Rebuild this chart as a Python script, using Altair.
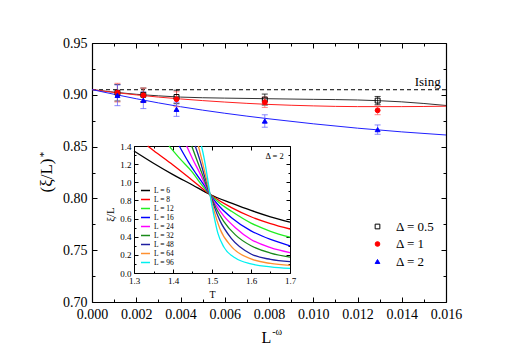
import altair as alt
import pandas as pd

SERIF = "Liberation Serif"

# ---------------- main panel data ----------------
L_omega = [0.00115, 0.00232, 0.00382, 0.00781, 0.01291]
series_names = ["Δ = 0.5", "Δ = 1", "Δ = 2"]
xi_05 = [0.9020, 0.9000, 0.8979, 0.8954, 0.8944]
err_05 = [0.0080, 0.0065, 0.0065, 0.0053, 0.0040]
xi_1 = [0.9021, 0.8995, 0.8957, 0.8928, 0.8850]
err_1 = [0.0090, 0.0070, 0.0072, 0.0050, 0.0042]
xi_2 = [0.8995, 0.8947, 0.8860, 0.8747, 0.8664]
err_2 = [0.0100, 0.0080, 0.0068, 0.0060, 0.0045]

fit_x = [0.000, 0.001, 0.002, 0.003, 0.004, 0.006, 0.008, 0.010, 0.012, 0.014, 0.016]
fit_05 = [0.9050, 0.9025, 0.9005, 0.8990, 0.8978, 0.8968, 0.8962, 0.8956, 0.8950, 0.8932, 0.8897]
fit_1 = [0.9050, 0.9023, 0.8999, 0.8978, 0.8960, 0.8930, 0.8907, 0.8893, 0.8886, 0.8886, 0.8890]
fit_2 = [0.9050, 0.9005, 0.8962, 0.8922, 0.8885, 0.8822, 0.8768, 0.8720, 0.8678, 0.8642, 0.8612]
ising_value = 0.9049

series_stroke = ["#000000", "#ff0000", "#0000ff"]
series_fill = ["transparent", "#ff0000", "#0000ff"]
series_shape = ["square", "circle", "triangle-up"]
fit_colors = ["#333333", "#ff2020", "#2020ff"]
err_colors = ["#000000", "#ff6060", "#6060ff"]

MAJ_X = [0.000, 0.002, 0.004, 0.006, 0.008, 0.010, 0.012, 0.014, 0.016]
MIN_X = [0.001, 0.003, 0.005, 0.007, 0.009, 0.011, 0.013, 0.015]
MAJ_Y = [0.70, 0.75, 0.80, 0.85, 0.90, 0.95]
MIN_Y = [0.725, 0.775, 0.825, 0.875, 0.925]

# ---------------- inset data ----------------
L_labels = ["L = 6", "L = 8", "L = 12", "L = 16", "L = 24", "L = 32", "L = 48", "L = 64", "L = 96"]
L_colors = ["#000000", "#ff0000", "#22ee22", "#0000ff", "#ff00ff", "#1a8a1a", "#1f1fa0", "#ff9030", "#00f0f0"]
T_6 = [1.30, 1.35, 1.40, 1.45, 1.495, 1.55, 1.60, 1.65, 1.70]
V_6 = [1.345, 1.21, 1.085, 0.97, 0.865, 0.77, 0.69, 0.62, 0.56]
T_8 = [1.335, 1.35, 1.40, 1.45, 1.495, 1.55, 1.60, 1.65, 1.70]
V_8 = [1.40, 1.35, 1.19, 1.02, 0.865, 0.72, 0.62, 0.545, 0.485]
T_12 = [1.39, 1.42, 1.45, 1.47, 1.495, 1.52, 1.55, 1.60, 1.65, 1.70]
V_12 = [1.40, 1.25, 1.11, 0.99, 0.865, 0.77, 0.68, 0.55, 0.46, 0.395]
T_16 = [1.416, 1.44, 1.46, 1.48, 1.495, 1.52, 1.55, 1.60, 1.65, 1.70]
V_16 = [1.40, 1.22, 1.09, 0.965, 0.865, 0.73, 0.61, 0.465, 0.37, 0.30]
T_24 = [1.435, 1.45, 1.47, 1.485, 1.495, 1.51, 1.53, 1.56, 1.60, 1.65, 1.70]
V_24 = [1.40, 1.26, 1.09, 0.95, 0.865, 0.75, 0.63, 0.50, 0.37, 0.28, 0.225]
T_32 = [1.448, 1.46, 1.475, 1.487, 1.495, 1.51, 1.53, 1.56, 1.60, 1.65, 1.70]
V_32 = [1.40, 1.26, 1.09, 0.95, 0.865, 0.72, 0.57, 0.42, 0.30, 0.22, 0.175]
T_48 = [1.457, 1.47, 1.48, 1.49, 1.495, 1.505, 1.52, 1.55, 1.60, 1.65, 1.70]
V_48 = [1.40, 1.23, 1.08, 0.94, 0.865, 0.74, 0.58, 0.38, 0.21, 0.15, 0.125]
T_64 = [1.465, 1.475, 1.485, 1.495, 1.505, 1.52, 1.55, 1.60, 1.65, 1.70]
V_64 = [1.40, 1.23, 1.05, 0.865, 0.69, 0.49, 0.29, 0.155, 0.105, 0.085]
T_96 = [1.473, 1.48, 1.488, 1.495, 1.505, 1.515, 1.53, 1.56, 1.60, 1.65, 1.70]
V_96 = [1.40, 1.26, 1.06, 0.865, 0.63, 0.44, 0.29, 0.165, 0.10, 0.068, 0.05]
inset_T = [T_6, T_8, T_12, T_16, T_24, T_32, T_48, T_64, T_96]
inset_V = [V_6, V_8, V_12, V_16, V_24, V_32, V_48, V_64, V_96]

IMAJ_X = [1.3, 1.4, 1.5, 1.6, 1.7]
IMIN_X = [1.35, 1.45, 1.55, 1.65]
IMAJ_Y = [0.0, 0.2, 0.4, 0.6, 0.8, 1.0, 1.2, 1.4]
IMIN_Y = [0.1, 0.3, 0.5, 0.7, 0.9, 1.1, 1.3]

# ---------------- tables ----------------
rows = []
for name, ys, es in zip(series_names, [xi_05, xi_1, xi_2], [err_05, err_1, err_2]):
    for x, y, e in zip(L_omega, ys, es):
        rows.append({"x": x, "y": y, "lo": y - e, "hi": y + e, "series": name})
pts = pd.DataFrame(rows)

frows = []
for name, ys in zip(series_names, [fit_05, fit_1, fit_2]):
    for x, y in zip(fit_x, ys):
        frows.append({"x": x, "y": y, "series": name})
fits = pd.DataFrame(frows)

ising_df = pd.DataFrame({"y": [ising_value], "x": [0.01576], "t": ["Ising"]})

irows = []
for lab, ts, vs in zip(L_labels, inset_T, inset_V):
    for t, v in zip(ts, vs):
        irows.append({"T": t, "v": v, "L": lab})
inset_df = pd.DataFrame(irows)
inset_note = pd.DataFrame({"T": [1.684], "v": [1.262], "t": ["Δ = 2"]})

W, H = 354, 259
XS = alt.Scale(domain=[0, 0.016], nice=False, zero=False)
YS = alt.Scale(domain=[0.70, 0.95], nice=False, zero=False)
IX0, IX1, IY0, IY1 = 42, 198, 230, 103
IXS = alt.Scale(domain=[1.3, 1.7], range=[IX0, IX1], nice=False, zero=False)
IYS = alt.Scale(domain=[0.0, 1.4], range=[IY0, IY1], nice=False, zero=False)

SS = alt.Scale(domain=series_names, range=series_stroke)
FS = alt.Scale(domain=series_names, range=series_fill)
SHS = alt.Scale(domain=series_names, range=series_shape)


def ax(**kw):
    base = dict(grid=False, labels=False, ticks=False, domain=False, title=None,
                tickColor="black", domainColor="black", labelColor="black",
                titleColor="black", labelFont=SERIF, titleFont=SERIF,
                labelFlush=False, labelOverlap=False, titleFontWeight="normal",
                tickWidth=1)
    base.update(kw)
    return alt.Axis(**base)


LEG = alt.Legend(orient="none", legendX=279, legendY=177, title=None,
                 labelFont=SERIF, labelFontSize=13, labelColor="black",
                 symbolSize=22, symbolStrokeWidth=1, rowPadding=3.5,
                 labelOffset=12, padding=0)

ising_rule = alt.Chart(ising_df).mark_rule(strokeDash=[4, 3], color="black", strokeWidth=1).encode(
    y=alt.Y("y:Q", scale=YS, axis=None))
ising_text = alt.Chart(ising_df).mark_text(font=SERIF, fontSize=13, align="right",
                                           baseline="alphabetic", dy=-3.5, color="black").encode(
    x=alt.X("x:Q", scale=XS, axis=None), y=alt.Y("y:Q", scale=YS, axis=None), text="t:N")

series_layers = []
for name, fc, ec in zip(series_names, fit_colors, err_colors):
    series_layers.append(
        alt.Chart(fits).transform_filter(alt.datum.series == name)
        .mark_line(strokeWidth=1, interpolate="monotone", color=fc)
        .encode(x=alt.X("x:Q", scale=XS, axis=None), y=alt.Y("y:Q", scale=YS, axis=None)))
for name, fc, ec in zip(series_names, fit_colors, err_colors):
    series_layers.append(
        alt.Chart(pts).transform_filter(alt.datum.series == name)
        .mark_rule(strokeWidth=1, opacity=0.75, color=ec)
        .encode(x=alt.X("x:Q", scale=XS, axis=None), y=alt.Y("lo:Q", scale=YS, axis=None), y2="hi:Q"))
    series_layers.append(
        alt.Chart(pts).transform_filter(alt.datum.series == name)
        .transform_fold(["lo", "hi"], as_=["k", "v"])
        .mark_rule(strokeWidth=1, opacity=0.75, color=ec, xOffset=-3, x2Offset=3)
        .encode(x=alt.X("x:Q", scale=XS, axis=None), x2="x:Q", y=alt.Y("v:Q", scale=YS, axis=None)))

points = alt.Chart(pts).mark_point(filled=True, opacity=1, size=24, strokeWidth=1).encode(
    x=alt.X("x:Q", scale=XS, axis=None), y=alt.Y("y:Q", scale=YS, axis=None),
    stroke=alt.Stroke("series:N", scale=SS, legend=LEG),
    fill=alt.Fill("series:N", scale=FS, legend=LEG),
    shape=alt.Shape("series:N", scale=SHS, legend=LEG))

ax_df = pd.DataFrame({"ax": [0.008], "ay": [0.80]})
iax_df = pd.DataFrame({"ax": [1.5], "ay": [0.7]})


def axis_layer(df, xs, ys, xa, ya):
    return alt.Chart(df).mark_point(opacity=0).encode(
        x=alt.X("ax:Q", scale=xs, axis=xa), y=alt.Y("ay:Q", scale=ys, axis=ya))


main_axes = [
    axis_layer(ax_df, XS, YS,
               ax(orient="bottom", values=MAJ_X, format=".3f", labels=True, domain=True,
                  domainWidth=1.2, tickSize=0, labelFontSize=14, labelPadding=5,
                  title="L", titleFontSize=16, titleX=174, titleY=40,
                  titleAlign="center", titleBaseline="alphabetic"),
               ax(orient="left", values=MAJ_Y, format=".2f", labels=True, domain=True,
                  domainWidth=1.2, tickSize=0, labelFontSize=14, labelPadding=5,
                  title="(ξ/L)", titleFontSize=17, titleAngle=270, titleX=-37, titleY=132,
                  titleAlign="center", titleBaseline="bottom")),
    axis_layer(ax_df, XS, YS,
               ax(orient="top", offset=-H, values=MAJ_X, ticks=True, tickSize=5),
               ax(orient="right", offset=-W, values=MAJ_Y, ticks=True, tickSize=5)),
    axis_layer(ax_df, XS, YS,
               ax(orient="top", offset=-H, values=MIN_X, ticks=True, tickSize=3,
                  title="-ω", titleFontSize=10, titleX=179.7, titleY=32,
                  titleAlign="left", titleBaseline="alphabetic"),
               ax(orient="right", offset=-W, values=MIN_Y, ticks=True, tickSize=3,
                  title="*", titleFontSize=11, titleAngle=270, titleX=-44, titleY=111,
                  titleAlign="center", titleBaseline="bottom")),
    axis_layer(ax_df, XS, YS,
               ax(orient="bottom", offset=-H, values=MAJ_X, ticks=True, tickSize=5,
                  domain=True, domainWidth=1.2),
               ax(orient="left", offset=-W, values=MAJ_Y, ticks=True, tickSize=5,
                  domain=True, domainWidth=1.2)),
    axis_layer(ax_df, XS, YS,
               ax(orient="bottom", offset=-H, values=MIN_X, ticks=True, tickSize=3),
               ax(orient="left", offset=-W, values=MIN_Y, ticks=True, tickSize=3)),
]

main = alt.layer(ising_rule, *series_layers, points, ising_text,
                 *main_axes).resolve_axis(x="independent", y="independent")

# ---------------- inset ----------------
ILEG = alt.Legend(orient="none", legendX=48, legendY=142, title=None,
                  symbolType="stroke", symbolSize=81, symbolStrokeWidth=1.5,
                  labelFont=SERIF, labelFontSize=7.5, labelColor="black",
                  labelOffset=3, rowPadding=0, padding=0)

inset_lines = alt.Chart(inset_df).mark_line(strokeWidth=1.3, interpolate="monotone").encode(
    x=alt.X("T:Q", scale=IXS, axis=None), y=alt.Y("v:Q", scale=IYS, axis=None),
    color=alt.Color("L:N", scale=alt.Scale(domain=L_labels, range=L_colors), legend=ILEG))
inset_text = alt.Chart(inset_note).mark_text(font=SERIF, fontSize=8.5, align="right",
                                             baseline="alphabetic", color="black").encode(
    x=alt.X("T:Q", scale=IXS, axis=None), y=alt.Y("v:Q", scale=IYS, axis=None), text="t:N")

inset_axes = [
    axis_layer(iax_df, IXS, IYS,
               ax(orient="bottom", offset=IY0 - H, values=IMAJ_X, format=".1f", labels=True,
                  domain=True, tickSize=0, labelFontSize=9, labelPadding=3,
                  title="T", titleFontSize=10, titlePadding=4),
               ax(orient="left", offset=-IX0, values=IMAJ_Y, format=".1f", labels=True,
                  domain=True, tickSize=0, labelFontSize=9, labelPadding=3,
                  title="ξ/L", titleFontSize=11, titleAngle=270, titleX=-19, titleY=171,
                  titleAlign="center", titleBaseline="bottom")),
    axis_layer(iax_df, IXS, IYS,
               ax(orient="top", offset=-IY0, values=IMAJ_X, ticks=True, tickSize=4),
               ax(orient="right", offset=IX0 - W, values=IMAJ_Y, ticks=True, tickSize=4)),
    axis_layer(iax_df, IXS, IYS,
               ax(orient="top", offset=-IY0, values=IMIN_X, ticks=True, tickSize=2),
               ax(orient="right", offset=IX0 - W, values=IMIN_Y, ticks=True, tickSize=2)),
    axis_layer(iax_df, IXS, IYS,
               ax(orient="bottom", offset=IY1 - H, values=IMAJ_X, ticks=True, tickSize=4,
                  domain=True),
               ax(orient="left", offset=-IX1, values=IMAJ_Y, ticks=True, tickSize=4,
                  domain=True)),
    axis_layer(iax_df, IXS, IYS,
               ax(orient="bottom", offset=IY1 - H, values=IMIN_X, ticks=True, tickSize=2),
               ax(orient="left", offset=-IX1, values=IMIN_Y, ticks=True, tickSize=2)),
]

inset = alt.layer(inset_lines, inset_text, *inset_axes).resolve_axis(x="independent", y="independent")

chart = alt.layer(main, inset).resolve_scale(
    x="independent", y="independent"
).properties(
    width=W, height=H,
    padding={"left": 84, "top": 35, "right": 40, "bottom": 45},
    autosize=alt.AutoSizeParams(type="none"),
).configure_axis(grid=False).configure_view(stroke=None).configure(background="white")

chart.save("out.html", embed_options={"renderer": "svg", "actions": False})
